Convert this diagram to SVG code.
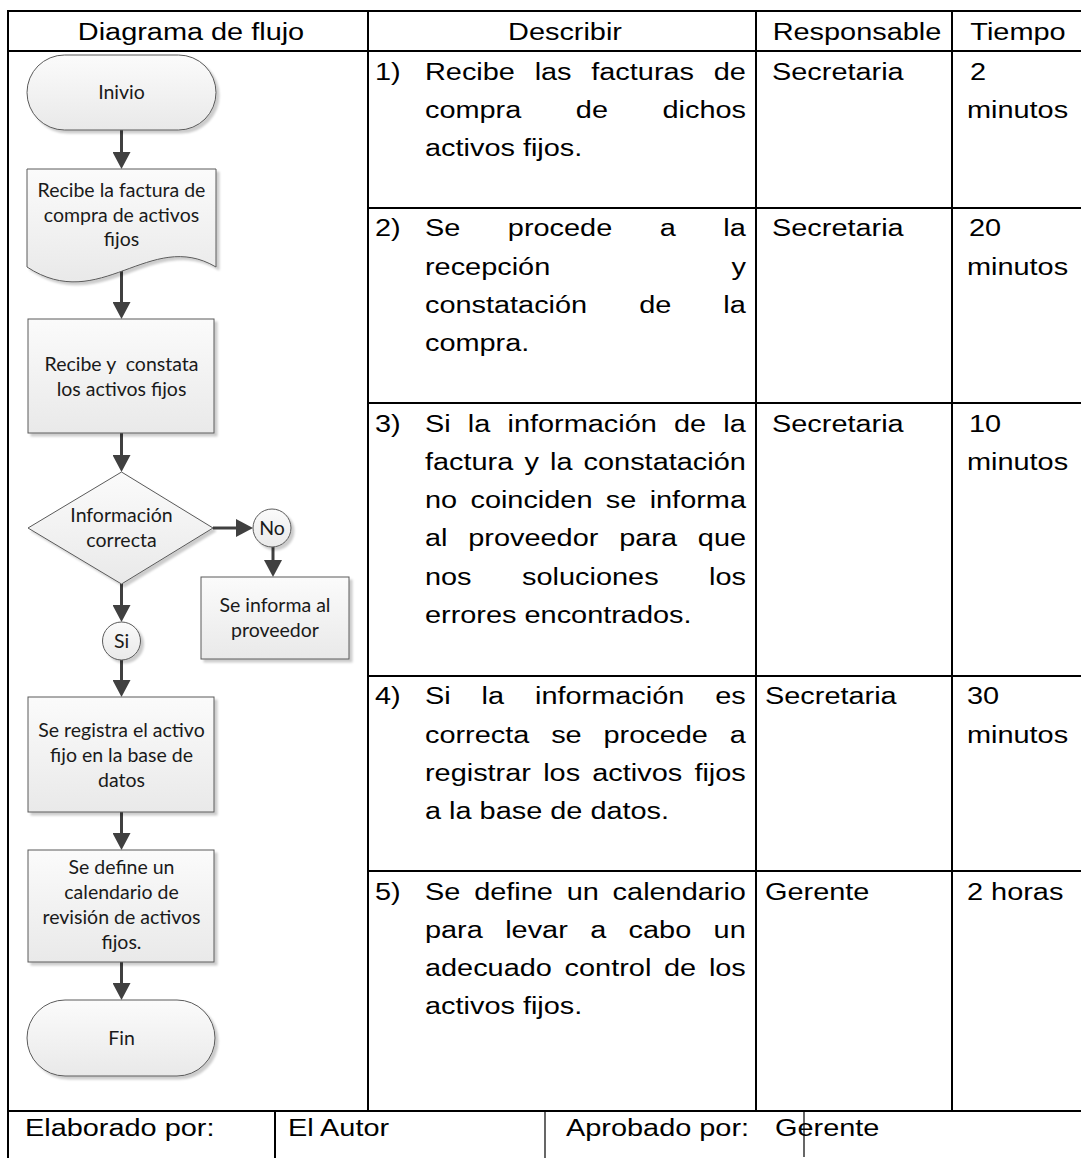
<svg xmlns="http://www.w3.org/2000/svg" width="1081" height="1158" viewBox="0 0 1081 1158">
<defs>
  <linearGradient id="fillg" x1="0" y1="0" x2="0" y2="1">
    <stop offset="0" stop-color="#fbfbfb"/>
    <stop offset="1" stop-color="#e9e9e9"/>
  </linearGradient>
  <filter id="shadow" x="-10%" y="-10%" width="130%" height="130%">
    <feDropShadow dx="3" dy="3" stdDeviation="1.2" flood-color="#000" flood-opacity="0.2"/>
  </filter>
  <marker id="arrow" markerUnits="userSpaceOnUse" markerWidth="18" markerHeight="18" refX="4" refY="9" orient="auto">
    <path d="M0,0 L17,9 L0,18 Z" fill="#404040"/>
  </marker>
</defs>
<style>
  .grid{stroke:#000;stroke-width:2;fill:none}
  .thin{stroke:#000;stroke-width:1.2;fill:none}
  .node{fill:url(#fillg);stroke:#5a5a5a;stroke-width:1;filter:url(#shadow)}
  .ft{font-family:Lato,"Liberation Sans",sans-serif;font-size:19.5px;fill:#1a1a1a;text-anchor:middle}
  .tt{font-family:"Liberation Sans",Arial,sans-serif;font-size:28.9px;fill:#000}
  .c{text-anchor:middle}
  .conn{stroke:#404040;stroke-width:3;fill:none;marker-end:url(#arrow)}
</style>
<rect width="1081" height="1158" fill="#fff"/>

<g id="table">
  <line class="grid" x1="7" y1="11" x2="1081" y2="11"/>
  <line class="grid" x1="8" y1="51" x2="1081" y2="51"/>
  <line class="grid" x1="368" y1="208" x2="1081" y2="208"/>
  <line class="grid" x1="368" y1="403" x2="1081" y2="403"/>
  <line class="grid" x1="368" y1="676" x2="1081" y2="676"/>
  <line class="grid" x1="368" y1="871" x2="1081" y2="871"/>
  <line class="grid" x1="8" y1="1111" x2="1081" y2="1111"/>
  <line class="grid" x1="8" y1="10" x2="8" y2="1158"/>
  <line class="grid" x1="368" y1="11" x2="368" y2="1111"/>
  <line class="grid" x1="756" y1="11" x2="756" y2="1111"/>
  <line class="grid" x1="952" y1="11" x2="952" y2="1111"/>
  <line class="grid" x1="275" y1="1111" x2="275" y2="1158"/>
  <line class="thin" x1="545" y1="1111" x2="545" y2="1158"/>
  <line class="thin" x1="804" y1="1110" x2="804" y2="1157"/>
</g>

<g id="table-text" class="tt" transform="scale(1,0.8)">
  <text class="c" x="191" y="49.4">Diagrama de flujo</text>
  <text class="c" x="565" y="49.4">Describir</text>
  <text class="c" x="857" y="49.4">Responsable</text>
  <text class="c" x="1018" y="49.4">Tiempo</text>

  <text x="375" y="99.4">1)</text>
  <text x="425" y="99.4" word-spacing="11.7">Recibe las facturas de</text>
  <text x="425" y="147.3" word-spacing="46.5">compra de dichos</text>
  <text x="425" y="195.1">activos fijos.</text>
  <text x="772" y="99.4">Secretaria</text>
  <text x="970" y="99.4">2</text>
  <text x="967" y="147.3">minutos</text>

  <text x="375" y="295.6">2)</text>
  <text x="425" y="295.6" word-spacing="39.5">Se procede a la</text>
  <text x="425" y="343.5" word-spacing="173.3">recepción y</text>
  <text x="425" y="391.4" word-spacing="44">constatación de la</text>
  <text x="425" y="439.3">compra.</text>
  <text x="772" y="295.6">Secretaria</text>
  <text x="969" y="295.6">20</text>
  <text x="967" y="343.5">minutos</text>

  <text x="375" y="539.4">3)</text>
  <text x="425" y="539.4" word-spacing="9.15">Si la información de la</text>
  <text x="425" y="587.3" word-spacing="3.1">factura y la constatación</text>
  <text x="425" y="635.1" word-spacing="5.3">no coinciden se informa</text>
  <text x="425" y="683" word-spacing="12.8">al proveedor para que</text>
  <text x="425" y="730.9" word-spacing="42.5">nos soluciones los</text>
  <text x="425" y="778.8">errores encontrados.</text>
  <text x="772" y="539.4">Secretaria</text>
  <text x="969" y="539.4">10</text>
  <text x="967" y="587.3">minutos</text>

  <text x="375" y="880.6">4)</text>
  <text x="425" y="880.6" word-spacing="22.9">Si la información es</text>
  <text x="425" y="928.5" word-spacing="13.8">correcta se procede a</text>
  <text x="425" y="976.4" word-spacing="4.2">registrar los activos fijos</text>
  <text x="425" y="1024.3">a la base de datos.</text>
  <text x="765" y="880.6">Secretaria</text>
  <text x="967" y="880.6">30</text>
  <text x="967" y="928.5">minutos</text>

  <text x="375" y="1124.4">5)</text>
  <text x="425" y="1124.4" word-spacing="5.8">Se define un calendario</text>
  <text x="425" y="1172.3" word-spacing="14.35">para levar a cabo un</text>
  <text x="425" y="1220.1" word-spacing="4.7">adecuado control de los</text>
  <text x="425" y="1268">activos fijos.</text>
  <text x="765" y="1124.4">Gerente</text>
  <text x="967" y="1124.4">2 horas</text>

  <text x="25" y="1420.6">Elaborado por:</text>
  <text x="288" y="1420.6">El Autor</text>
  <text x="566" y="1420.6">Aprobado por:</text>
  <text x="775" y="1420.6">Gerente</text>
</g>

<g id="connectors">
  <line class="conn" x1="121.5" y1="130" x2="121.5" y2="156"/>
  <line class="conn" x1="121.5" y1="270" x2="121.5" y2="306"/>
  <line class="conn" x1="121.5" y1="433" x2="121.5" y2="459"/>
  <line class="conn" x1="213" y1="528" x2="240" y2="528"/>
  <line class="conn" x1="273" y1="547" x2="273" y2="564"/>
  <line class="conn" x1="121.5" y1="584" x2="121.5" y2="609"/>
  <line class="conn" x1="121.5" y1="660" x2="121.5" y2="684"/>
  <line class="conn" x1="121.5" y1="812" x2="121.5" y2="837"/>
  <line class="conn" x1="121.5" y1="962" x2="121.5" y2="987"/>
</g>

<g id="n-inicio">
  <rect class="node" x="27" y="55" width="189" height="75" rx="37.5" ry="37.5"/>
  <text class="ft" x="121.5" y="99">Inivio</text>
</g>
<g id="n-factura">
  <path class="node" d="M27,169 H216 V267 C150,228 100,315 27,267 Z"/>
  <text class="ft" x="121.5" y="197">Recibe la factura de</text>
  <text class="ft" x="121.5" y="222">compra de activos</text>
  <text class="ft" x="121.5" y="246">fijos</text>
</g>
<g id="n-constata">
  <rect class="node" x="28" y="319" width="186" height="114"/>
  <text class="ft" x="121.5" y="371" xml:space="preserve">Recibe y  constata</text>
  <text class="ft" x="121.5" y="396">los activos fijos</text>
</g>
<g id="n-decision">
  <polygon class="node" points="121.5,472 213,528 121.5,584 28,528"/>
  <text class="ft" x="121.5" y="522">Información</text>
  <text class="ft" x="121.5" y="547">correcta</text>
</g>
<g id="n-no">
  <circle class="node" cx="272" cy="528" r="19"/>
  <text class="ft" x="272" y="535">No</text>
</g>
<g id="n-informa">
  <rect class="node" x="201" y="577" width="148" height="82"/>
  <text class="ft" x="275" y="612">Se informa al</text>
  <text class="ft" x="275" y="637">proveedor</text>
</g>
<g id="n-si">
  <circle class="node" cx="121.5" cy="641" r="19"/>
  <text class="ft" x="121.5" y="648">Si</text>
</g>
<g id="n-registra">
  <rect class="node" x="28" y="697" width="186" height="115"/>
  <text class="ft" x="121.5" y="737">Se registra el activo</text>
  <text class="ft" x="121.5" y="762">fijo en la base de</text>
  <text class="ft" x="121.5" y="787">datos</text>
</g>
<g id="n-calendario">
  <rect class="node" x="28" y="850" width="186" height="112"/>
  <text class="ft" x="121.5" y="874">Se define un</text>
  <text class="ft" x="121.5" y="899">calendario de</text>
  <text class="ft" x="121.5" y="924">revisión de activos</text>
  <text class="ft" x="121.5" y="949">fijos.</text>
</g>
<g id="n-fin">
  <rect class="node" x="27" y="1000" width="188" height="76" rx="38" ry="38"/>
  <text class="ft" x="121.5" y="1045">Fin</text>
</g>
</svg>
